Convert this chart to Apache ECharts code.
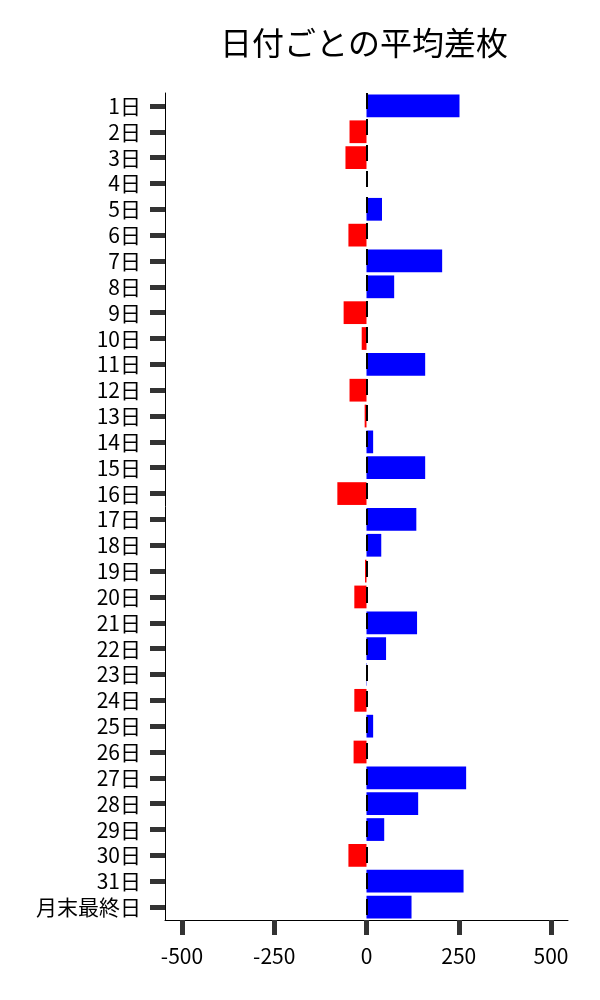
<!DOCTYPE html>
<html lang="ja">
<head>
    <meta charset="UTF-8">
    <title>日付ごとの平均差枚</title>
    <script src="https://cdn.jsdelivr.net/npm/echarts@6/dist/echarts.min.js"></script>
    <style>
        html, body { margin: 0; padding: 0; background: #fff; }
    </style>
</head>
<body>
    <div id="main" style="width: 600px;height: 1000px"></div>
    <script type="text/javascript">
        var days = ['1日','2日','3日','4日','5日','6日','7日','8日','9日','10日',
            '11日','12日','13日','14日','15日','16日','17日','18日','19日','20日',
            '21日','22日','23日','24日','25日','26日','27日','28日','29日','30日',
            '31日','月末最終日'];
        var avgDiff = [252, -46, -57, 0, 42, -49, 205, 75, -62, -13,
            159, -46, -5, 18, 159, -79, 135, 40, -4, -33,
            137, 53, 1, -33, 18, -35, 270, 140, 48, -49,
            263, 122];
        var xTicks = [-500, -250, 0, 250, 500];

        var font = '"Noto Sans CJK JP", "Noto Sans", sans-serif';

        var option = {
            animation: false,
            title: {
                text: '日付ごとの平均差枚',
                left: 359,
                textAlign: 'center',
                top: 22,
                textStyle: {
                    fontFamily: font,
                    fontSize: 32,
                    fontWeight: 'normal',
                    color: '#000'
                }
            },
            grid: {
                left: 165,
                right: 32,
                top: 93,
                bottom: 80
            },
            xAxis: {
                type: 'value',
                min: -546,
                max: 546,
                splitLine: { show: false },
                axisLine: {
                    show: true,
                    onZero: false,
                    lineStyle: { color: '#000', width: 1 }
                },
                axisTick: {
                    show: true,
                    length: 15,
                    customValues: xTicks,
                    lineStyle: { color: '#333', width: 5 }
                },
                axisLabel: {
                    customValues: xTicks,
                    margin: 26,
                    fontFamily: font,
                    fontSize: 21,
                    color: '#000'
                }
            },
            yAxis: {
                type: 'category',
                data: days,
                inverse: true,
                axisLine: {
                    show: true,
                    onZero: false,
                    lineStyle: { color: '#000', width: 1 }
                },
                axisTick: {
                    show: true,
                    interval: 0,
                    alignWithLabel: true,
                    length: 15,
                    lineStyle: { color: '#333', width: 5 }
                },
                axisLabel: {
                    interval: 0,
                    margin: 24,
                    fontFamily: font,
                    fontSize: 21,
                    color: '#000'
                }
            },
            series: [
                {
                    name: '平均差枚',
                    type: 'bar',
                    barCategoryGap: '12%',
                    data: avgDiff,
                    itemStyle: {
                        color: function (p) {
                            return p.value >= 0 ? '#0000ff' : '#ff0000';
                        }
                    },
                    markLine: {
                        silent: true,
                        symbol: 'none',
                        label: { show: false },
                        lineStyle: { color: '#000', width: 2, type: [16, 10] },
                        data: [{ xAxis: 0 }]
                    }
                }
            ]
        };

        var myChart = echarts.init(document.getElementById('main'));
        myChart.setOption(option);
    </script>
</body>
</html>
